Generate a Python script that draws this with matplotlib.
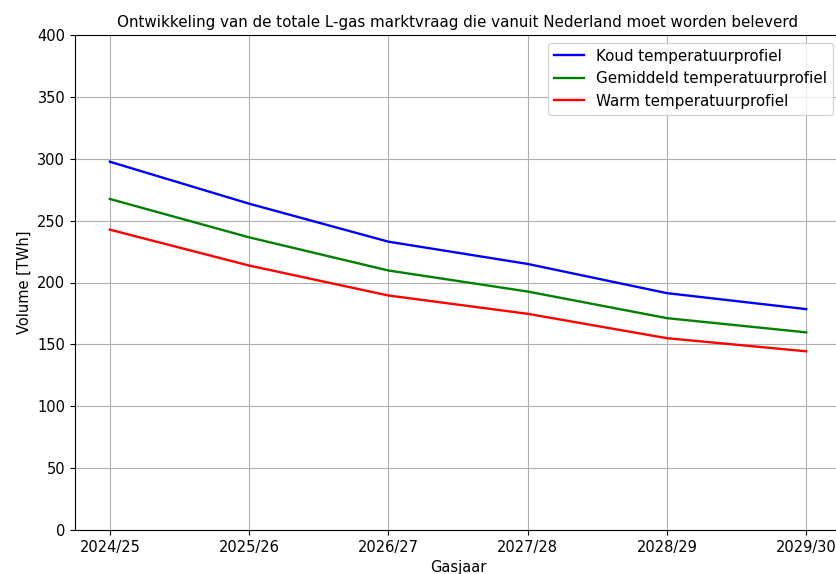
import numpy as np
import matplotlib.pyplot as plt

jaren = ["2024/25", "2025/26", "2026/27", "2027/28", "2028/29", "2029/30"]
koud = [297.6, 263.7, 233.0, 215.0, 191.4, 178.5]
gemiddeld = [267.5, 236.5, 209.7, 192.7, 171.2, 159.7]
warm = [242.7, 213.7, 189.5, 174.7, 155.0, 144.4]

fig = plt.figure(figsize=(8.37, 5.74), dpi=100)
ax = fig.add_axes([75/837, 44/574, 766/837, 495/574])

x = np.arange(len(jaren))
ax.plot(x, koud, color="blue", lw=1.7, label="Koud temperatuurprofiel")
ax.plot(x, gemiddeld, color="green", lw=1.7, label="Gemiddeld temperatuurprofiel")
ax.plot(x, warm, color="red", lw=1.7, label="Warm temperatuurprofiel")

ax.set_xticks(x)
ax.set_xticklabels(jaren)
ax.set_ylim(0, 400)
ax.tick_params(labelsize=10.5)
ax.grid(True)
ax.set_title("Ontwikkeling van de totale L-gas marktvraag die vanuit Nederland moet worden beleverd",
             fontsize=10.9)
ax.set_xlabel("Gasjaar", fontsize=10.5)
ax.set_ylabel("Volume [TWh]", fontsize=10.5)
ax.legend(loc="upper right", fontsize=10.9)

fig.savefig("out.png", dpi=100)
